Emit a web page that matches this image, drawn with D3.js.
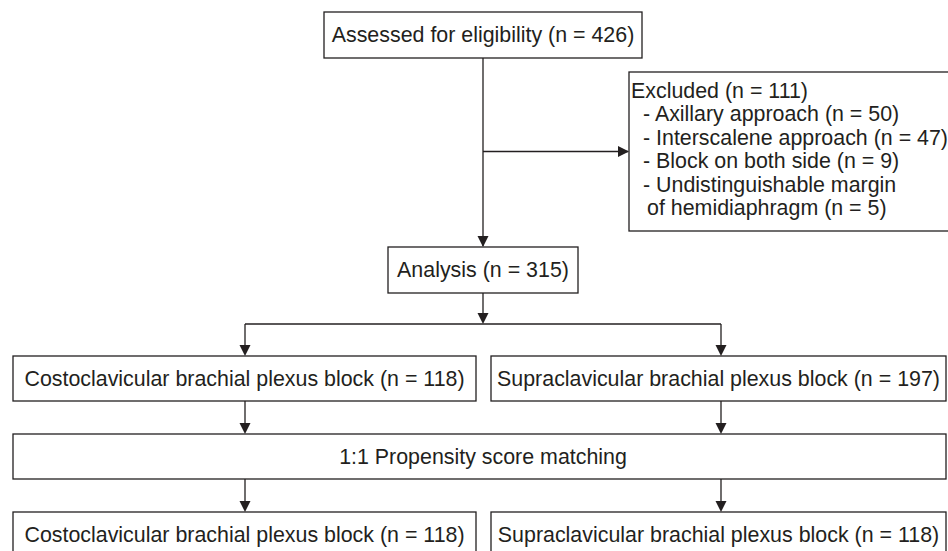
<!DOCTYPE html>
<html>
<head>
<meta charset="utf-8">
<script src="https://cdn.jsdelivr.net/npm/d3@7"></script>
<style>
  html, body { margin: 0; padding: 0; background: #fff; }
  svg { display: block; }
  text { font-family: "Liberation Sans", Arial, Helvetica, sans-serif; fill: #231f20; }
</style>
</head>
<body>
<div id="chart"></div>
<script>
// flow data
const assessedLabel = "Assessed for eligibility";
const assessedN = 426;
const excludedLabel = "Excluded";
const excludedN = 111;
const exclusionReasons = ["Axillary approach", "Interscalene approach", "Block on both side", "Undistinguishable margin\nof hemidiaphragm"];
const exclusionCounts = [50, 47, 9, 5];
const analysisLabel = "Analysis";
const analysisN = 315;
const groups = ["Costoclavicular brachial plexus block", "Supraclavicular brachial plexus block"];
const groupN = [118, 197];
const matchingLabel = "1:1 Propensity score matching";
const matchedN = [118, 118];

const width = 948, height = 551;
const ink = "#231f20";
const fontSize = 21.4;

const svg = d3.select("#chart").append("svg")
    .attr("width", width)
    .attr("height", height);

// box extents and arrow x for each arm
const col = d3.scaleOrdinal().domain(groups).range([[13, 476], [491, 946]]);
const arm = d3.scaleOrdinal().domain(groups).range([245, 721]);

function box(x0, y0, x1, y1) {
    svg.append("rect")
        .attr("x", x0).attr("y", y0)
        .attr("width", x1 - x0).attr("height", y1 - y0)
        .attr("fill", "#fff")
        .attr("stroke", ink)
        .attr("stroke-width", 1.3);
}

function label(x, y, txt, anchor) {
    svg.append("text")
        .attr("x", x).attr("y", y)
        .attr("dy", "0.35em")
        .attr("text-anchor", anchor || "middle")
        .attr("font-size", fontSize)
        .text(txt);
}

function line(pts) {
    svg.append("path")
        .attr("d", d3.line()(pts))
        .attr("fill", "none")
        .attr("stroke", ink)
        .attr("stroke-width", 1.3);
}

// arrowhead with tip at (x, y), pointing "down" or "right"
function head(x, y, dir) {
    const l = 11, w = 5.5;
    const pts = dir === "right"
        ? [[x, y], [x - l, y - w], [x - l, y + w]]
        : [[x, y], [x - w, y - l], [x + w, y - l]];
    svg.append("path")
        .attr("d", d3.line()(pts) + "Z")
        .attr("fill", ink);
}

const nText = (s, n) => `${s} (n = ${n})`;

// top box
const midX = 483;
line([[midX, 58], [midX, 246]]);
head(midX, 247, "down");
box(324, 12, 642, 58);
label(midX, 35, nText(assessedLabel, assessedN));

// exclusion branch
const branchY = 151.5;
line([[midX, branchY], [628, branchY]]);
head(629, branchY, "right");
box(629, 72, 960, 231);
const exLines = [{t: nText(excludedLabel, excludedN), x: 631}];
exclusionReasons.forEach((r, i) => {
    const parts = r.split("\n");
    exLines.push({t: "- " + parts[0] + (parts.length === 1 ? ` (n = ${exclusionCounts[i]})` : ""), x: 643});
    if (parts.length > 1) exLines.push({t: `${parts[1]} (n = ${exclusionCounts[i]})`, x: 647});
});
exLines.forEach((d, i) => label(d.x, 90.5 + i * 23.4, d.t, "start"));

// analysis
box(388, 247, 578, 293);
label(483, 270, nText(analysisLabel, analysisN));

// split to two arms
const splitY = 324;
line([[midX, 293], [midX, splitY - 10]]);
head(midX, splitY, "down");
line([[arm(groups[0]), splitY], [arm(groups[1]), splitY]]);

groups.forEach((g, i) => {
    const [x0, x1] = col(g);
    const cx = arm(g);
    const tx = (x0 + x1) / 2;
    line([[cx, splitY], [cx, 345]]);
    head(cx, 356, "down");
    box(x0, 356, x1, 401);
    label(tx, 378.5, nText(g, groupN[i]));
    line([[cx, 401], [cx, 423]]);
    head(cx, 434, "down");
    line([[cx, 479], [cx, 501]]);
    head(cx, 512, "down");
    box(x0, 512, x1, 557);
    label(tx, 534.5, nText(g, matchedN[i]));
});

// matching box
box(13, 434, 946, 479);
label(483, 456.5, matchingLabel);
</script>
</body>
</html>
